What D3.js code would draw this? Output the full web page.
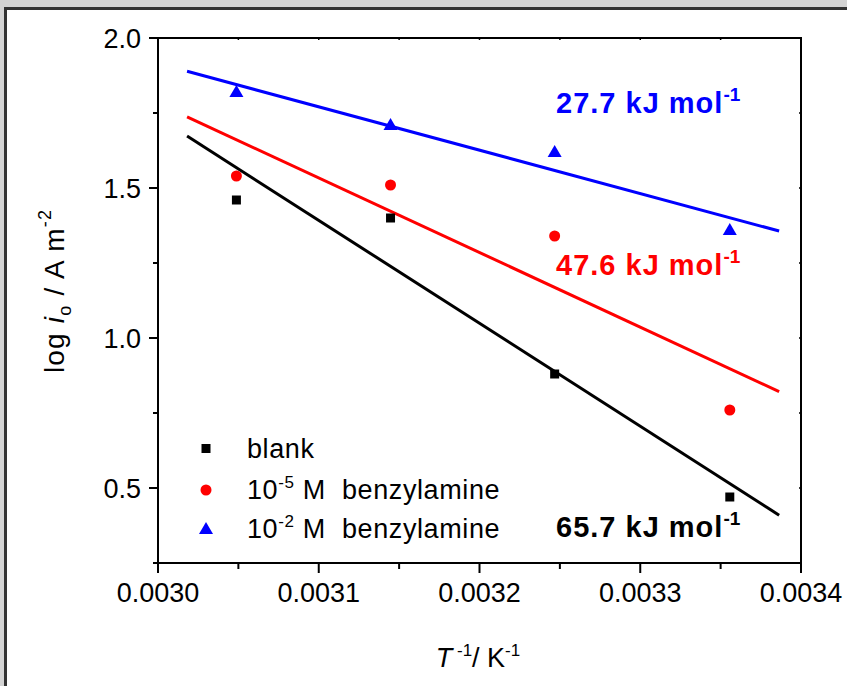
<!DOCTYPE html>
<html>
<head>
<meta charset="utf-8">
<script src="https://cdn.jsdelivr.net/npm/d3@7"></script>
<style>
  html, body { margin: 0; padding: 0; background: #d4d4d4; }
  svg { display: block; }
  text { font-family: Arial, "Liberation Sans", sans-serif; white-space: pre; }
</style>
</head>
<body>
<svg id="chart" width="847" height="686"></svg>
<script>
// ---- data ----
const invT = [1/328, 1/318, 1/308, 1/298];
const blank = [1.46, 1.40, 0.88, 0.47];
const benz5 = [1.54, 1.51, 1.34, 0.76];
const benz2 = [1.82, 1.71, 1.62, 1.36];
const seriesNames = ["blank", "10-5 M  benzylamine", "10-2 M  benzylamine"];
const seriesColors = ["#000000", "#ff0000", "#0000ff"];
const energyLabels = ["65.7", "47.6", "27.7"];
const xTicks = [0.0030, 0.0031, 0.0032, 0.0033, 0.0034];
const yTicks = [0.5, 1.0, 1.5, 2.0];

const svg = d3.select("#chart");
// frame
svg.append("rect").attr("x", 5.5).attr("y", 8.5).attr("width", 900).attr("height", 700)
  .attr("fill", "#fff").attr("stroke", "#333").attr("stroke-width", 3);

const x = d3.scaleLinear().domain([0.0030, 0.0034]).range([158, 801]);
const y = d3.scaleLinear().domain([0.25, 2.0]).range([563, 38]);

const series = [blank, benz5, benz2];

// least squares fit
function fit(xs, ys) {
  const n = xs.length;
  const mx = d3.mean(xs), my = d3.mean(ys);
  let sxy = 0, sxx = 0;
  for (let i = 0; i < n; i++) { sxy += (xs[i]-mx)*(ys[i]-my); sxx += (xs[i]-mx)**2; }
  const b = sxy / sxx;
  return { b, a: my - b*mx };
}
const [xmin, xmax] = d3.extent(invT);
const ext = (xmax - xmin) * 0.1;
const fitX = [xmin - ext, xmax + ext];

const g = svg.append("g");
series.forEach((ys, i) => {
  const f = fit(invT, ys);
  g.append("line")
    .attr("x1", x(fitX[0])).attr("y1", y(f.a + f.b*fitX[0]))
    .attr("x2", x(fitX[1])).attr("y2", y(f.a + f.b*fitX[1]))
    .attr("stroke", seriesColors[i]).attr("stroke-width", 3);
});

// symbols
const symTypes = [d3.symbolSquare, d3.symbolCircle, d3.symbolTriangle];
const symSizes = [81, 95, 85];
function drawSym(sel, i, cx, cy) {
  sel.append("path")
    .attr("d", d3.symbol().type(symTypes[i]).size(symSizes[i])())
    .attr("transform", `translate(${cx},${cy + (i===2?1:0)})`)
    .attr("fill", seriesColors[i]);
}
series.forEach((ys, i) => {
  ys.forEach((v, j) => drawSym(g, i, x(invT[j]), y(v)));
});

// axes
const ax = svg.append("g").attr("stroke", "#000").attr("stroke-width", 2);
ax.append("rect").attr("x", 158).attr("y", 38).attr("width", 801-158).attr("height", 563-38)
  .attr("fill", "none");

const xMinor = d3.range(0.00305, 0.0034, 0.0001);
xTicks.forEach(t => ax.append("line").attr("x1", x(t)).attr("x2", x(t)).attr("y1", 563).attr("y2", 573));
xMinor.forEach(t => ax.append("line").attr("x1", x(t)).attr("x2", x(t)).attr("y1", 563).attr("y2", 569));
xTicks.concat(xMinor).forEach(t => ax.append("line").attr("x1", x(t)).attr("x2", x(t)).attr("y1", 38).attr("y2", 40).attr("stroke-width", 1.5));
const yMinor = [0.25, 0.75, 1.25, 1.75];
yTicks.forEach(t => ax.append("line").attr("x1", 149).attr("x2", 158).attr("y1", y(t)).attr("y2", y(t)));
yMinor.forEach(t => ax.append("line").attr("x1", 153).attr("x2", 158).attr("y1", y(t)).attr("y2", y(t)));
yTicks.concat(yMinor).forEach(t => ax.append("line").attr("x1", 799).attr("x2", 801).attr("y1", y(t)).attr("y2", y(t)).attr("stroke-width", 1.5));

const fx = d3.format(".4f"), fy = d3.format(".1f");
xTicks.forEach(t => svg.append("text").attr("x", x(t)).attr("y", 602)
  .attr("text-anchor", "middle").attr("font-size", 27).text(fx(t)));
yTicks.forEach(t => svg.append("text").attr("x", 141).attr("y", y(t) + 9.5)
  .attr("text-anchor", "end").attr("font-size", 27).text(fy(t)));

// axis titles
const xt = svg.append("text").attr("x", 478).attr("y", 667).attr("text-anchor", "middle").attr("font-size", 27);
xt.append("tspan").attr("font-style", "italic").text("T");
xt.append("tspan").attr("font-size", 17).attr("dy", -11).text(" -1");
xt.append("tspan").attr("dy", 11).text("/ K");
xt.append("tspan").attr("font-size", 17).attr("dy", -11).text("-1");

const yt = svg.append("text").attr("transform", "translate(64,291) rotate(-90)")
  .attr("text-anchor", "middle").attr("font-size", 28).attr("letter-spacing", 1.2);
yt.append("tspan").text("log ");
yt.append("tspan").attr("font-style", "italic").text("i");
yt.append("tspan").attr("font-size", 18).attr("dy", 7).text("o");
yt.append("tspan").attr("dy", -7).text(" / A m");
yt.append("tspan").attr("font-size", 18).attr("dy", -13).text("-2");

// energy labels
const labelPos = [[556, 537], [556, 275], [556, 113]];
energyLabels.forEach((e, i) => {
  const t = svg.append("text").attr("x", labelPos[i][0]).attr("y", labelPos[i][1])
    .attr("font-size", 29).attr("font-weight", "bold").attr("letter-spacing", 1)
    .attr("fill", seriesColors[i]);
  t.append("tspan").text(e + " kJ mol");
  t.append("tspan").attr("font-size", 19).attr("dy", -12).attr("letter-spacing", 0).text("-1");
});

// legend
const legRows = [448.5, 490, 529];
seriesNames.forEach((name, i) => {
  drawSym(svg, i, 206, legRows[i]);
  const t = svg.append("text").attr("x", 247).attr("y", legRows[i] + 9).attr("font-size", 27)
    .attr("letter-spacing", 0.6);
  if (i === 0) t.text(name);
  else {
    const parts = name.split("-");
    const rest = parts[1].slice(1);
    t.append("tspan").text("10");
    t.append("tspan").attr("font-size", 17).attr("dy", -11).text("-" + parts[1][0]);
    t.append("tspan").attr("dy", 11).text(rest);
  }
});
</script>
</body>
</html>
